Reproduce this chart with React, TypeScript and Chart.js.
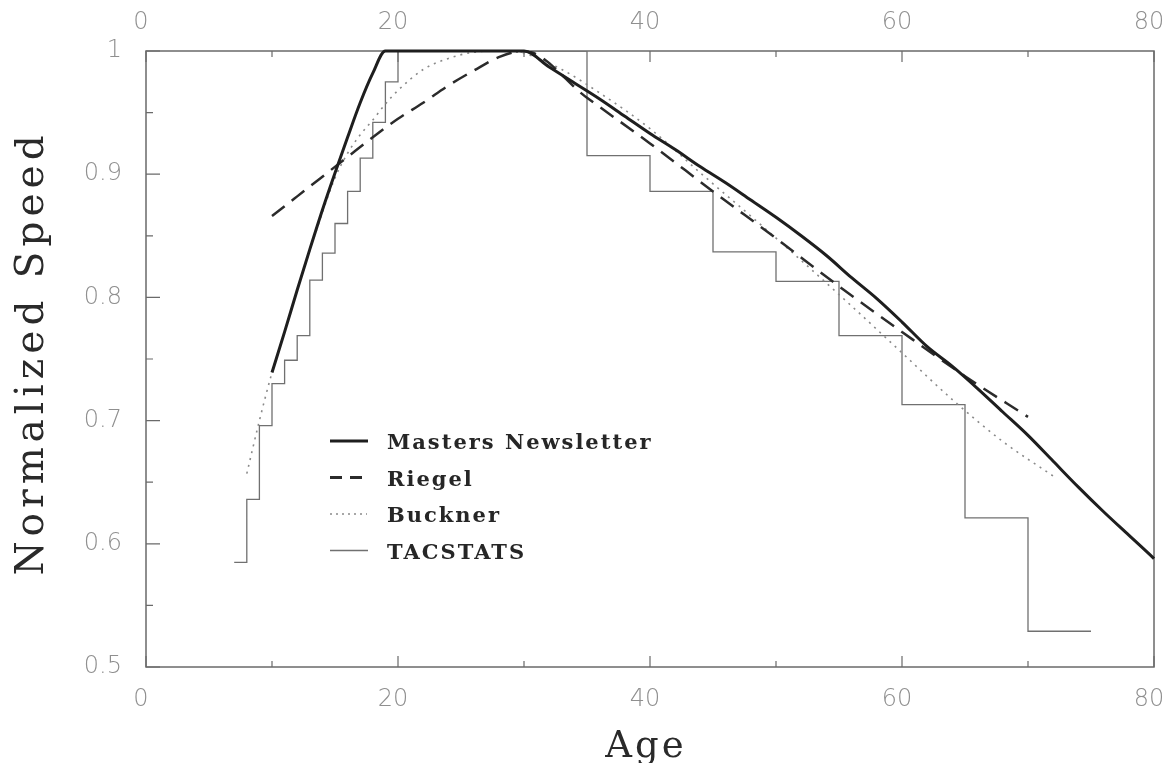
import React, { useEffect, useRef } from "react";
import { Chart, registerables } from "chart.js";

Chart.register(...registerables);

// ---- Data ----
const mastersAge = [10, 11, 12, 13, 14, 15, 16, 17, 18, 19, 30, 32, 34, 36, 38, 40, 42, 44, 46, 48, 50, 52, 54, 56, 58, 60, 62, 64, 66, 68, 70, 72, 74, 76, 78, 80, 80.6];
const mastersSpeed = [0.739, 0.772, 0.806, 0.839, 0.871, 0.901, 0.93, 0.958, 0.982, 1.0, 1.0, 0.987, 0.974, 0.961, 0.947, 0.933, 0.92, 0.906, 0.893, 0.879, 0.865, 0.85, 0.834, 0.816, 0.799, 0.78, 0.76, 0.744, 0.726, 0.707, 0.688, 0.667, 0.646, 0.626, 0.607, 0.588, 0.582];

const riegelAge = [10, 12, 14, 16, 18, 20, 22, 24, 26, 28, 30, 35, 40, 45, 50, 55, 60, 65, 70];
const riegelSpeed = [0.866, 0.882, 0.898, 0.914, 0.93, 0.945, 0.958, 0.972, 0.984, 0.995, 1.0, 0.962, 0.925, 0.886, 0.848, 0.809, 0.772, 0.736, 0.703];

const bucknerAge = [8, 9, 10, 11, 12, 13, 14, 15, 16, 17, 18, 19, 20, 22, 24, 26, 28, 30, 33, 36, 40, 44, 48, 52, 56, 60, 64, 68, 72];
const bucknerSpeed = [0.657, 0.7, 0.739, 0.772, 0.806, 0.838, 0.869, 0.897, 0.917, 0.932, 0.944, 0.957, 0.968, 0.985, 0.994, 0.999, 1.0, 0.998, 0.985, 0.966, 0.937, 0.901, 0.866, 0.83, 0.793, 0.755, 0.717, 0.683, 0.655];

const tacAge = [7, 8, 9, 10, 11, 12, 13, 14, 15, 16, 17, 18, 19, 20, 35, 40, 45, 50, 55, 60, 65, 70, 75];
const tacSpeed = [0.585, 0.636, 0.696, 0.73, 0.749, 0.769, 0.814, 0.836, 0.86, 0.886, 0.913, 0.942, 0.975, 1.0, 0.915, 0.886, 0.837, 0.813, 0.769, 0.713, 0.621, 0.529, 0.529];

const xTickLabels = [0, 20, 40, 60, 80];
const yTickLabels = [0.5, 0.6, 0.7, 0.8, 0.9, 1];
const xMinorTicks = [0, 10, 20, 30, 40, 50, 60, 70, 80];
const yMinorTicks = [0.5, 0.55, 0.6, 0.65, 0.7, 0.75, 0.8, 0.85, 0.9, 0.95, 1];

const seriesLabels = ["Masters Newsletter", "Riegel", "Buckner", "TACSTATS"];
const xTitle = "Age";
const yTitle = "Normalized Speed";

const pts = (xs: number[], ys: number[]) => xs.map((x, i) => ({ x, y: ys[i] }));

const tickFont = { family: "'DejaVu Sans', sans-serif", size: 24, weight: "300" as any };
const tickColor = "#8f8f8f";

const decorPlugin = {
  id: "decor",
  beforeDatasetsDraw(chart: any) {
    const { ctx, chartArea: a, scales } = chart;
    const sx = scales.x;
    const sy = scales.y;
    ctx.save();
    ctx.strokeStyle = "#6a6a6a";
    ctx.lineWidth = 1.5;
    ctx.strokeRect(a.left, a.top, a.right - a.left, a.bottom - a.top);
    ctx.lineWidth = 1.2;
    ctx.beginPath();
    xMinorTicks.forEach((v) => {
      const px = sx.getPixelForValue(v);
      const len = v % 20 === 0 ? 11 : 6;
      ctx.moveTo(px, a.bottom);
      ctx.lineTo(px, a.bottom - len);
      ctx.moveTo(px, a.top);
      ctx.lineTo(px, a.top + len);
    });
    yMinorTicks.forEach((v, i) => {
      const py = sy.getPixelForValue(v);
      const len = i % 2 === 0 ? 14 : 7;
      ctx.moveTo(a.left, py);
      ctx.lineTo(a.left + len, py);
    });
    ctx.stroke();
    ctx.restore();
  },
  afterDraw(chart: any) {
    const { ctx, chartArea: a } = chart;
    ctx.save();
    // legend
    const lx0 = a.left + 184;
    const tx = a.left + 241;
    const baseY = a.top + 398;
    const gap = 36.5;
    chart.data.datasets.forEach((ds: any, i: number) => {
      const by = baseY + i * gap;
      const ly = by - 8;
      ctx.save();
      ctx.strokeStyle = ds.borderColor;
      ctx.lineWidth = ds.legendWidth;
      ctx.setLineDash(ds.legendDash || []);
      ctx.beginPath();
      ctx.moveTo(lx0, ly);
      ctx.lineTo(lx0 + ds.legendLen, ly);
      ctx.stroke();
      ctx.restore();
      ctx.fillStyle = "#262626";
      ctx.font = "bold 21px 'DejaVu Serif', serif";
      (ctx as any).letterSpacing = "2px";
      ctx.textAlign = "left";
      ctx.textBaseline = "alphabetic";
      ctx.fillText(ds.label, tx, by);
    });
    // axis titles
    ctx.fillStyle = "#2a2a2a";
    ctx.textAlign = "center";
    ctx.textBaseline = "alphabetic";
    ctx.font = "39px 'DejaVu Serif', serif";
    (ctx as any).letterSpacing = "5px";
    ctx.save();
    ctx.translate(43, (a.top + a.bottom) / 2 - 6);
    ctx.rotate(-Math.PI / 2);
    ctx.fillText(yTitle, 0, 0);
    ctx.restore();
    ctx.font = "37px 'DejaVu Serif', serif";
    (ctx as any).letterSpacing = "3px";
    ctx.fillText(xTitle, (a.left + a.right) / 2 - 4, 757);
    ctx.restore();
  },
};

export default function App() {
  const ref = useRef<HTMLCanvasElement>(null);
  useEffect(() => {
    document.body.style.margin = "0";
    const chart = new Chart(ref.current as HTMLCanvasElement, {
      type: "line",
      data: {
        datasets: [
          {
            label: seriesLabels[0],
            data: pts(mastersAge, mastersSpeed),
            borderColor: "#1e1e1e",
            borderWidth: 3,
            pointRadius: 0,
            cubicInterpolationMode: "monotone",
            clip: false as any,
            legendWidth: 3,
            legendLen: 38,
          } as any,
          {
            label: seriesLabels[1],
            data: pts(riegelAge, riegelSpeed),
            borderColor: "#2b2b2b",
            borderWidth: 2.5,
            borderDash: [16, 9],
            pointRadius: 0,
            cubicInterpolationMode: "monotone",
            legendWidth: 3,
            legendDash: [12, 8],
            legendLen: 32,
          } as any,
          {
            label: seriesLabels[2],
            data: pts(bucknerAge, bucknerSpeed),
            borderColor: "#8a8a8a",
            borderWidth: 1.6,
            borderDash: [2, 5],
            pointRadius: 0,
            cubicInterpolationMode: "monotone",
            legendWidth: 1.4,
            legendDash: [2, 4],
            legendLen: 37,
          } as any,
          {
            label: seriesLabels[3],
            data: pts(tacAge, tacSpeed),
            borderColor: "#707070",
            borderWidth: 1.3,
            pointRadius: 0,
            stepped: "before",
            legendWidth: 1.3,
            legendLen: 38,
          } as any,
        ],
      },
      options: {
        animation: false,
        responsive: false,
        devicePixelRatio: 1,
        layout: { padding: { left: 0, right: 12, top: 0, bottom: 0 } },
        plugins: { legend: { display: false }, tooltip: { enabled: false } },
        scales: {
          x: {
            type: "linear",
            position: "bottom",
            min: 0,
            max: 80,
            afterBuildTicks: (s: any) => {
              s.ticks = xTickLabels.map((v) => ({ value: v }));
            },
            grid: { display: false, drawTicks: false },
            border: { display: false },
            ticks: { padding: 18, labelOffset: -5, font: tickFont, color: tickColor, maxRotation: 0, autoSkip: false, callback: (v: any) => String(v) },
            afterFit: (s: any) => {
              s.height = 96;
              s.paddingLeft = 0;
              s.paddingRight = 0;
            },
          },
          x2: {
            type: "linear",
            position: "top",
            min: 0,
            max: 80,
            afterBuildTicks: (s: any) => {
              s.ticks = xTickLabels.map((v) => ({ value: v }));
            },
            grid: { display: false, drawTicks: false },
            border: { display: false },
            ticks: { padding: 14, labelOffset: -5, font: tickFont, color: tickColor, maxRotation: 0, autoSkip: false, callback: (v: any) => String(v) },
            afterFit: (s: any) => {
              s.height = 51;
              s.paddingLeft = 0;
              s.paddingRight = 0;
            },
          },
          y: {
            type: "linear",
            min: 0.5,
            max: 1,
            afterBuildTicks: (s: any) => {
              s.ticks = yTickLabels.map((v) => ({ value: v }));
            },
            grid: { display: false, drawTicks: false },
            border: { display: false },
            ticks: { padding: 24, font: tickFont, color: tickColor, autoSkip: false, callback: (v: any) => String(Math.round(Number(v) * 10) / 10) },
            afterFit: (s: any) => {
              s.width = 146;
              s.paddingTop = 0;
              s.paddingBottom = 0;
            },
          },
        },
      } as any,
      plugins: [decorPlugin as any],
    });
    return () => chart.destroy();
  }, []);
  return (
    <div style={{ width: 1166, height: 763, background: "#fff", overflow: "hidden" }}>
      <canvas ref={ref} width={1166} height={763} style={{ display: "block" }} />
    </div>
  );
}
